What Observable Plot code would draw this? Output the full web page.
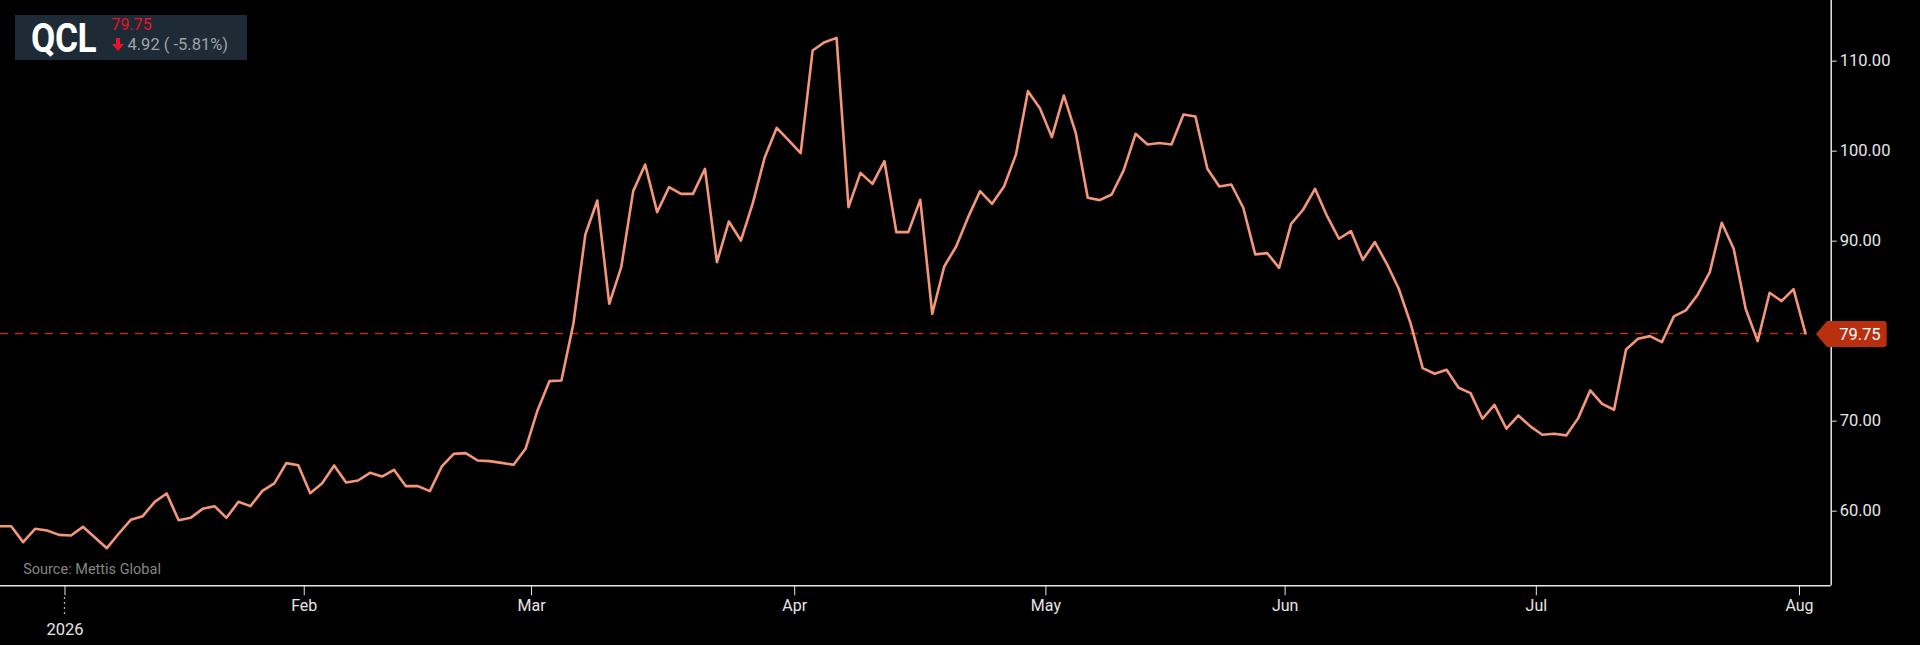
<!DOCTYPE html>
<html>
<head>
<meta charset="utf-8">
<script src="https://cdn.jsdelivr.net/npm/d3@7"></script>
<script src="https://cdn.jsdelivr.net/npm/@observablehq/plot@0.6"></script>
<style>
  html, body { margin: 0; padding: 0; background: #000; }
  #wrap { position: relative; width: 1920px; height: 645px; overflow: hidden; background: #000; }
  #badge { position: absolute; left: 15px; top: 15px; width: 232px; height: 45px; background: #1e2a35; font-family: Roboto, sans-serif; }
  #sym { position: absolute; left: 16px; top: 1px; font-size: 41px; font-weight: 700; color: #fff; transform: scaleX(0.86); transform-origin: left; letter-spacing: -0.5px; line-height: 45px; }
  #last { position: absolute; left: 96.5px; top: 0px; font-size: 16px; color: #e8142c; line-height: 20px; }
  #chg { position: absolute; left: 96.5px; top: 19px; font-size: 16.5px; color: #9ea3a8; line-height: 22px; white-space: nowrap; }
  #chg svg { vertical-align: -1px; margin-right: 4px; }
</style>
</head>
<body>
<div id="wrap">
  <div id="chart"></div>
  <div id="badge">
    <div id="sym">QCL</div>
    <div id="last">79.75</div>
    <div id="chg"><svg width="12" height="13" viewBox="0 0 12 13"><path d="M4 0 H8 V6 H12 L6 13 L0 6 H4 Z" fill="#e8142c"/></svg>4.92 ( -5.81%)</div>
  </div>
</div>
<script>
// Daily closes (trading days, 23 Dec 2025 .. 3 Aug 2026)
const closes = [
  58.33, 58.33, 56.56, 58.04, 57.85, 57.37,
  57.30, 58.26, 57.08, 55.89, 57.52, 59.04, 59.45, 61.04, 61.97, 59.00,
  59.26, 60.26, 60.56, 59.26, 61.04, 60.56, 62.26, 63.08, 65.34, 65.11,
  62.00, 63.11, 65.08, 63.19, 63.41, 64.26, 63.85, 64.60, 62.78, 62.78,
  62.23, 64.97, 66.37, 66.45, 65.63, 65.56, 65.37, 65.15, 66.93,
  71.19, 74.45, 74.52, 80.82, 90.74, 94.52, 83.04, 87.11, 95.56, 98.52,
  93.22, 96.00, 95.26, 95.26, 98.04, 87.67, 92.19, 90.07, 94.22, 99.33,
  102.59, 101.19,
  99.78, 111.19, 112.11, 112.59, 93.78, 97.59, 96.37, 98.90, 91.00, 91.00,
  94.60, 81.93, 87.19, 89.41, 92.67, 95.56, 94.15, 96.08, 99.64, 106.67,
  104.78,
  101.56, 106.19, 102.01, 94.82, 94.56, 95.19, 97.86, 101.93, 100.75, 100.90,
  100.75, 104.08, 103.86, 98.04, 96.08, 96.30, 93.71, 88.53, 88.67, 87.04,
  91.93, 93.49, 95.82, 92.80, 90.27, 91.12, 87.93, 89.90, 87.49, 84.71,
  80.82, 75.90, 75.27, 75.71, 73.71, 73.12, 70.27, 71.82, 69.16, 70.64, 69.42,
  68.49, 68.60, 68.42, 70.34, 73.42, 71.93, 71.27, 77.97, 79.16, 79.45,
  78.79, 81.64, 82.31, 84.08, 86.56, 92.05, 89.16, 82.49, 78.90, 84.27,
  83.34, 84.67,
  79.75
];
// Month boundary ticks (between last trading day of a month and first of next)
const tickPos = [5.5, 25.5, 44.5, 66.5, 87.5, 107.5, 128.5, 150.5];
const tickLabels = ["", "Feb", "Mar", "Apr", "May", "Jun", "Jul", "Aug"];
const yearTickPos = [5.5];
const yearLabels = ["2026"];
const yTicks = [60, 70, 90, 100, 110]; // 80 is hidden behind the price tag
const lastPrice = 79.75;
const sourceText = "Source: Mettis Global";

const xDomain = [0.108, 153.15];
const yDomain = [51.71, 116.74];

const rows = closes.map((v, i) => ({i, v}));
const labelOf = new Map(tickPos.map((p, k) => [p, tickLabels[k]]));

const lineColor = "#f4967a";
const markColor = "#b8300f";
const axisColor = "#e6e6e6";

// custom render: year-tick dotted extension + last price tag
function decorations(index, scales, values, dims) {
  const g = d3.create("svg:g");
  const yb = dims.height - dims.marginBottom;
  for (const p of yearTickPos) {
    const x = scales.x(p);
    g.append("line").attr("x1", x).attr("x2", x).attr("y1", yb + 12).attr("y2", yb + 31)
      .attr("stroke", axisColor).attr("stroke-width", 1.3).attr("stroke-dasharray", "1.5,3.5");
  }
  const yy = scales.y(lastPrice) + 1;
  const xr = dims.width - dims.marginRight;
  const tip = scales.x(closes.length - 1) + 11;
  const left = tip + 11, right = xr + 56, h = 13, r = 3;
  g.append("path")
    .attr("d", `M${tip},${yy} L${left},${yy - h} H${right - r} Q${right},${yy - h} ${right},${yy - h + r} V${yy + h - r} Q${right},${yy + h} ${right - r},${yy + h} H${left} Z`)
    .attr("fill", markColor);
  g.append("text").attr("x", xr + 8.5).attr("y", yy).attr("dy", "0.36em")
    .attr("text-anchor", "start")
    .attr("fill", "#fff").attr("font-size", 16.5).attr("font-family", "Roboto, sans-serif")
    .text(lastPrice.toFixed(2));
  return g.node();
}

const chart = Plot.plot({
  width: 1920,
  height: 645,
  marginLeft: 0,
  marginRight: 89.3,
  marginTop: 0,
  marginBottom: 59.7,
  style: {background: "#000", color: axisColor, fontFamily: "Roboto, sans-serif", fontSize: "16px", overflow: "visible"},
  x: {domain: xDomain, axis: null, label: null},
  y: {domain: yDomain, axis: null, label: null},
  marks: [
    Plot.ruleY([lastPrice], {x1: xDomain[0], x2: closes.length - 1, stroke: markColor, strokeWidth: 1.5, strokeDasharray: "8,7"}),
    Plot.line(rows, {x: "i", y: "v", stroke: lineColor, strokeWidth: 2.6, clip: true}),
    Plot.ruleY([yDomain[0]], {stroke: axisColor, strokeWidth: 1.5}),
    Plot.ruleX([xDomain[1]], {stroke: axisColor, strokeWidth: 1.5}),
    Plot.axisY(yTicks, {anchor: "right", label: null, tickSize: 5, tickPadding: 3.5, tickFormat: d => d.toFixed(2), stroke: axisColor, fill: axisColor, fontSize: 16.5}),
    Plot.axisX(tickPos, {anchor: "bottom", label: null, tickSize: 10, tickPadding: 4, tickFormat: d => labelOf.get(d), stroke: axisColor, fill: axisColor, fontSize: 16}),
    Plot.text(yearLabels, {x: yearTickPos, frameAnchor: "bottom", lineAnchor: "top", dy: 37.4, fill: axisColor, fontSize: 16.5}),
    Plot.text([sourceText], {frameAnchor: "bottom-left", textAnchor: "start", lineAnchor: "middle", dx: 22.7, dy: -16.5, fill: "#858585", fontSize: 14.5}),
    decorations
  ]
});
document.getElementById("chart").appendChild(chart);
</script>
</body>
</html>
